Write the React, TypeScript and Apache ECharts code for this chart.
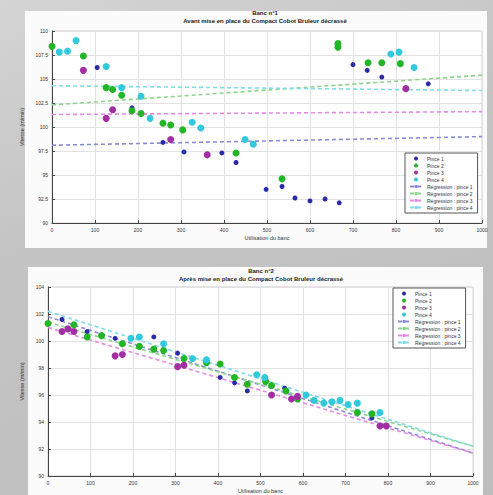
import React, { useEffect, useRef } from "react";
import * as echarts from "echarts";

// ---------- Banc n°1 (avant) ----------
const b1Pince1: [number, number][] = [
  [105, 106.2], [186, 102.0], [258, 98.4], [307, 97.4], [395, 97.3], [428, 96.3],
  [498, 93.5], [535, 93.8], [565, 92.6], [600, 92.3], [635, 92.5], [668, 92.1],
  [700, 106.5], [733, 105.9], [767, 105.2], [875, 104.5],
];
const b1Pince2: [number, number][] = [
  [0, 108.4], [73, 107.4], [126, 104.1], [141, 103.9], [162, 103.3], [186, 101.7],
  [207, 101.4], [258, 100.4], [276, 100.2], [304, 99.7], [428, 97.3], [535, 94.6],
  [665, 108.7], [665, 108.3], [735, 106.7], [767, 106.7], [810, 106.6],
];
const b1Pince3: [number, number][] = [
  [73, 105.9], [126, 100.9], [141, 101.8], [276, 98.7], [361, 97.1], [823, 104.0],
];
const b1Pince4: [number, number][] = [
  [17, 107.8], [36, 107.9], [56, 109.0], [126, 106.3], [162, 104.1], [207, 103.2],
  [228, 100.9], [326, 100.5], [346, 99.9], [449, 98.7], [468, 98.2], [788, 107.6],
  [807, 107.8], [842, 106.2],
];
const b1Reg1: [number, number][] = [[0, 98.1], [1000, 99.0]];
const b1Reg2: [number, number][] = [[0, 102.3], [1000, 105.4]];
const b1Reg3: [number, number][] = [[0, 101.3], [1000, 101.6]];
const b1Reg4: [number, number][] = [[0, 104.3], [1000, 103.8]];

// ---------- Banc n°2 (après) ----------
const b2Pince1: [number, number][] = [
  [33, 101.6], [92, 100.7], [158, 100.2], [249, 100.3], [305, 99.1], [373, 98.5],
  [405, 97.3], [439, 96.9], [469, 96.3], [557, 96.5], [762, 94.3],
];
const b2Pince2: [number, number][] = [
  [0, 101.3], [61, 101.2], [92, 100.3], [126, 100.4], [175, 99.8], [215, 99.6],
  [249, 99.4], [272, 99.3], [320, 98.7], [373, 98.4], [405, 98.3], [439, 97.3],
  [469, 96.8], [512, 97.0], [526, 96.7], [560, 96.3], [587, 95.7], [728, 94.7],
  [762, 94.6],
];
const b2Pince3: [number, number][] = [
  [33, 100.7], [47, 100.9], [61, 100.7], [158, 98.9], [175, 99.0], [305, 98.1],
  [320, 98.2], [526, 96.0], [573, 95.7], [587, 95.9], [781, 93.7], [796, 93.7],
];
const b2Pince4: [number, number][] = [
  [195, 100.2], [215, 100.3], [272, 99.8], [340, 98.7], [373, 98.6], [491, 97.5],
  [510, 97.3], [607, 96.0], [626, 95.6], [649, 95.4], [668, 95.5], [687, 95.6],
  [706, 95.3], [728, 95.4], [781, 94.7],
];
const b2Reg1: [number, number][] = [[0, 101.8], [1000, 91.7]];
const b2Reg2: [number, number][] = [[0, 101.4], [1000, 92.2]];
const b2Reg3: [number, number][] = [[0, 101.0], [1000, 91.7]];
const b2Reg4: [number, number][] = [[0, 102.2], [1000, 92.2]];

const pinceNames = ["Pince 1", "Pince 2", "Pince 3", "Pince 4"];
const regNames = ["Régression : pince 1", "Régression : pince 2", "Régression : pince 3", "Régression : pince 4"];
const dotColors = ["#2b2ba8", "#22b525", "#a12ea3", "#33c9dc"];
const regColors = ["#8c8ad6", "#8bd68b", "#e58be5", "#7fdcea"];
const dotSizes = [5, 7, 7, 7];

const titles1 = ["Banc n°1", "Avant mise en place du Compact Cobot Bruleur décrassé"];
const titles2 = ["Banc n°2", "Après mise en place du Compact Cobot Bruleur décrassé"];
const xName = "Utilisation du banc";
const yName = "Vitesse (m/min)";

export default function App() {
  const ref = useRef<HTMLDivElement>(null);
  useEffect(() => {
    if (!ref.current) return;
    const chart = echarts.init(ref.current, undefined, { renderer: "svg" });
    const font = "Arial, 'Liberation Sans', sans-serif";
    const axisCommon = {
      axisLine: { show: true, lineStyle: { color: "#444", width: 1 } },
      axisTick: { show: true, inside: true, length: 3, lineStyle: { color: "#444" } },
      axisLabel: { color: "#333", fontSize: 5, fontFamily: font, margin: 4, formatter: (v: number) => String(v) },
      splitLine: { show: true, lineStyle: { color: "#e2e2e2", width: 1 } },
      nameTextStyle: { color: "#333", fontSize: 5.5, fontFamily: font },
    };
    const b1Dots = [b1Pince1, b1Pince2, b1Pince3, b1Pince4];
    const b1Regs = [b1Reg1, b1Reg2, b1Reg3, b1Reg4];
    const b2Dots = [b2Pince1, b2Pince2, b2Pince3, b2Pince4];
    const b2Regs = [b2Reg1, b2Reg2, b2Reg3, b2Reg4];
    const series: any[] = [];
    const mk = (dots: [number, number][][], regs: [number, number][][], idx: number) => {
      dots.forEach((d, i) =>
        series.push({
          type: "scatter",
          name: pinceNames[i],
          xAxisIndex: idx,
          yAxisIndex: idx,
          data: d,
          symbol: "circle",
          symbolSize: dotSizes[i],
          itemStyle: { color: dotColors[i], opacity: 1 },
          z: 5,
        })
      );
      regs.forEach((d, i) =>
        series.push({
          type: "line",
          name: regNames[i],
          xAxisIndex: idx,
          yAxisIndex: idx,
          data: d,
          showSymbol: false,
          symbol: "none",
          lineStyle: { color: regColors[i], width: 1.6, type: [4, 3] },
          itemStyle: { color: regColors[i] },
          z: 3,
        })
      );
    };
    mk(b1Dots, b1Regs, 0);
    mk(b2Dots, b2Regs, 1);

    const legendData = [
      ...pinceNames.map((n) => ({ name: n, icon: "circle" })),
      ...regNames.map((n) => ({ name: n })),
    ];
    const legendCommon = {
      orient: "vertical",
      data: legendData,
      itemWidth: 12,
      itemHeight: 4,
      itemGap: 2,
      padding: [3, 5, 3, 4],
      backgroundColor: "#ffffff",
      borderColor: "#555",
      borderWidth: 1,
      textStyle: { fontSize: 5, color: "#333", fontFamily: font },
      selectedMode: false,
    };

    chart.setOption({
      animation: false,
      backgroundColor: "transparent",
      graphic: [
        { type: "rect", shape: { x: 25, y: 11, width: 462, height: 237 }, style: { fill: "#fbfbfb" }, z: -10 },
        { type: "rect", shape: { x: 28, y: 267, width: 455, height: 230 }, style: { fill: "#fbfbfb" }, z: -10 },
        { type: "text", x: 265, y: 10, style: { text: titles1[0], font: `bold 6px ${font}`, fill: "#222", textAlign: "center" } },
        { type: "text", x: 265, y: 18, style: { text: titles1[1], font: `bold 6px ${font}`, fill: "#222", textAlign: "center" } },
        { type: "text", x: 261, y: 268, style: { text: titles2[0], font: `bold 6px ${font}`, fill: "#222", textAlign: "center" } },
        { type: "text", x: 261, y: 276, style: { text: titles2[1], font: `bold 6px ${font}`, fill: "#222", textAlign: "center" } },
      ],
      grid: [
        { left: 52, right: 11, top: 31, bottom: 272, show: true, borderColor: "#cfcfcf", borderWidth: 1, backgroundColor: "#ffffff" },
        { left: 48, right: 20, top: 287, bottom: 18, show: true, borderColor: "#cfcfcf", borderWidth: 1, backgroundColor: "#ffffff" },
      ],
      xAxis: [
        { ...axisCommon, type: "value", gridIndex: 0, min: 0, max: 1000, interval: 100, name: xName, nameLocation: "middle", nameGap: 12 },
        { ...axisCommon, type: "value", gridIndex: 1, min: 0, max: 1000, interval: 100, name: xName, nameLocation: "middle", nameGap: 12 },
      ],
      yAxis: [
        {
          ...axisCommon, type: "value", gridIndex: 0, min: 90, max: 110, interval: 2.5,
          name: yName, nameLocation: "middle", nameGap: 19, nameRotate: 90,
        },
        {
          ...axisCommon, type: "value", gridIndex: 1, min: 90, max: 104, interval: 2,
          name: yName, nameLocation: "middle", nameGap: 15, nameRotate: 90,
        },
      ],
      legend: [
        { ...legendCommon, left: 405, top: 153 },
        { ...legendCommon, left: 393, top: 288 },
      ],
      series,
    });
    return () => chart.dispose();
  }, []);
  return (
    <div
      style={{
        position: "fixed",
        left: 0,
        top: 0,
        width: 493,
        height: 495,
        background: "linear-gradient(160deg, #d3d4d3 0%, #c4c5c4 35%, #bcbdbc 100%)",
      }}
    >
      <div ref={ref} style={{ width: 493, height: 495 }} />
    </div>
  );
}
